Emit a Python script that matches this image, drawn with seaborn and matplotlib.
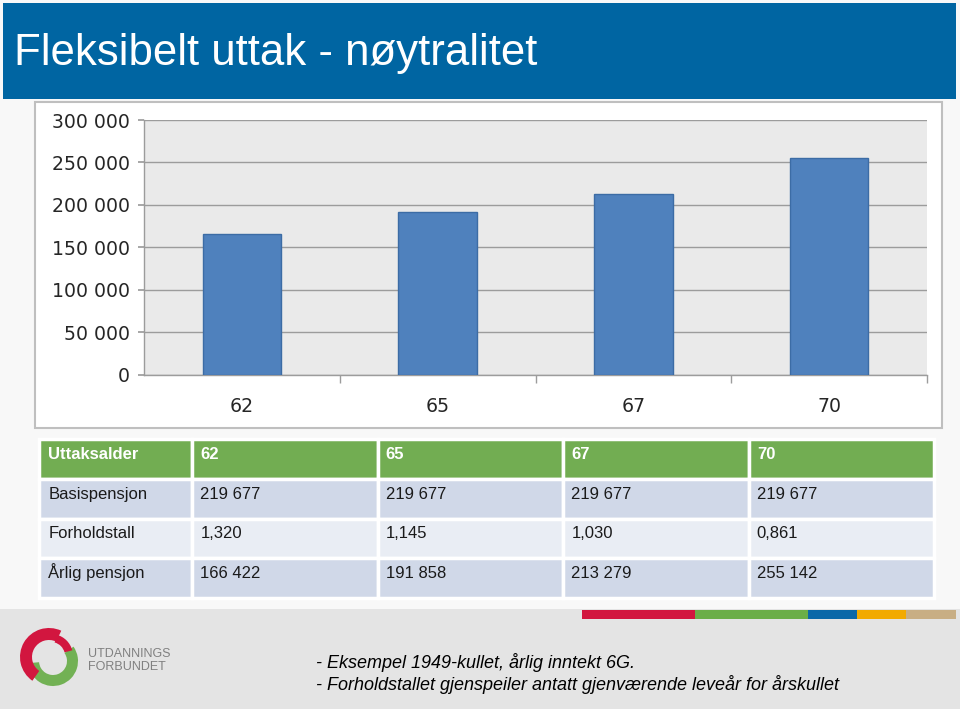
import matplotlib
matplotlib.use("Agg")
import matplotlib.pyplot as plt
import matplotlib.patches as mpatches
import numpy as np
import pandas as pd
import seaborn as sns

# ---- data ----
ages = ["62", "65", "67", "70"]
arlig_pensjon = [166422, 191858, 213279, 255142]
y_ticks = [0, 50000, 100000, 150000, 200000, 250000, 300000]
y_tick_labels = ["0", "50 000", "100 000", "150 000", "200 000", "250 000", "300 000"]

table_header = ["Uttaksalder", "62", "65", "67", "70"]
row_labels = ["Basispensjon", "Forholdstall", "Årlig pensjon"]
basispensjon = ["219 677", "219 677", "219 677", "219 677"]
forholdstall = ["1,320", "1,145", "1,030", "0,861"]
arlig_txt = ["166 422", "191 858", "213 279", "255 142"]

title = "Fleksibelt uttak - nøytralitet"
notes = ["- Eksempel 1949-kullet, årlig inntekt 6G.",
         "- Forholdstallet gjenspeiler antatt gjenværende leveår for årskullet"]

sns.set_theme(style="white")
plt.rcParams['font.family'] = ['Liberation Sans', 'DejaVu Sans']

W, H = 960, 709
fig = plt.figure(figsize=(W / 100, H / 100), dpi=100)
fig.patch.set_facecolor("#F8F8F8")

def fx(x):
    return x / W

def fy(y):
    return 1 - y / H

# background layer axes in pixel coordinates (y downwards)
bg = fig.add_axes([0, 0, 1, 1], zorder=0)
bg.set_xlim(0, W)
bg.set_ylim(H, 0)
bg.axis("off")

# title banner
bg.add_patch(mpatches.Rectangle((3, 3), 953, 96, facecolor="#0065A2", edgecolor="none"))
bg.text(14, 53, title, color="white", fontsize=31.5, va="center", ha="left",
        family=['Liberation Sans', 'DejaVu Sans'])

# chart frame
bg.add_patch(mpatches.Rectangle((35, 102), 907, 326, facecolor="white", edgecolor="#BFBFBF", lw=1.5))

# footer band
bg.add_patch(mpatches.Rectangle((0, 609), W, 100, facecolor="#E4E4E4", edgecolor="none"))
strips = [(582, 695, "#D2163F"), (695, 808, "#6BAE48"), (808, 857, "#0B68A8"),
          (857, 906, "#F2AA00"), (906, 956, "#C8AE84")]
for x0, x1, c in strips:
    bg.add_patch(mpatches.Rectangle((x0, 610), x1 - x0, 9, facecolor=c, edgecolor="none"))

# logo (angles mirrored because y axis points down)
bg.add_patch(mpatches.Wedge((53, 661), 25, -35, 175, width=11, facecolor="#72B154", edgecolor="none"))
bg.add_patch(mpatches.Wedge((49, 657), 29, 125, 295, width=12, facecolor="#D2163F", edgecolor="none"))
bg.add_patch(mpatches.Wedge((51, 656), 22, -75, -15, width=8, facecolor="#D2163F", edgecolor="none"))
bg.text(88, 654, "UTDANNINGS", color="#808080", fontsize=9, va="center", ha="left",
        family=['Liberation Sans', 'DejaVu Sans'])
bg.text(88, 667, "FORBUNDET", color="#808080", fontsize=9, va="center", ha="left",
        family=['Liberation Sans', 'DejaVu Sans'])

for i, t in enumerate(notes):
    bg.text(316, 662 + i * 23, t, color="black", fontsize=13, style="italic", va="center", ha="left",
            family=['Liberation Sans', 'DejaVu Sans'])

# ---- bar chart ----
ax = fig.add_axes([fx(144), fy(375), fx(927 - 144), (375 - 120) / H], zorder=2)
df = pd.DataFrame({"age": ages, "value": arlig_pensjon})
sns.barplot(data=df, x="age", y="value", ax=ax, color="#4F81BD", width=0.4,
            edgecolor="#3C6CA5", linewidth=1.0, saturation=1, zorder=3)
ax.set_facecolor("#EAEAEA")
ax.set_xlim(-0.5, 3.5)
ax.set_ylim(0, 300000)
ax.set_yticks(y_ticks)
ax.set_yticklabels(y_tick_labels, family="DejaVu Sans", fontsize=13.6)
ax.set_xticks(range(len(ages)))
ax.set_xticklabels(ages, family="DejaVu Sans", fontsize=13.6)
ax.set_xlabel("")
ax.set_ylabel("")
ax.grid(axis="y", color="#9C9C9C", lw=1.0, zorder=1)
ax.set_axisbelow(True)
for s in ["top", "right"]:
    ax.spines[s].set_visible(False)
for s in ["left", "bottom"]:
    ax.spines[s].set_color("#9C9C9C")
    ax.spines[s].set_linewidth(1.0)
ax.tick_params(axis="y", which="major", left=True, length=4, color="#9C9C9C", pad=6)
ax.tick_params(axis="x", which="major", bottom=False, pad=10)
ax.set_xticks([0.5, 1.5, 2.5, 3.5], minor=True)
ax.tick_params(axis="x", which="minor", bottom=True, length=6, color="#9C9C9C")

# ---- table ----
tax = fig.add_axes([fx(39), fy(598), fx(934 - 39), (598 - 439) / H], zorder=2)
tax.axis("off")
cell_text = [basispensjon, forholdstall, arlig_txt]
rows = [table_header] + [[lab] + vals for lab, vals in zip(row_labels, cell_text)]
col_w = [153, 185.5, 185.5, 185.5, 185.5]
tot = sum(col_w)
tbl = tax.table(cellText=rows, colWidths=[c / tot for c in col_w], bbox=[0, 0, 1, 1], cellLoc="left")
tbl.auto_set_font_size(False)
row_colors = ["#72AD52", "#D0D8E8", "#E9EDF4", "#D0D8E8"]
for (r, c), cell in tbl.get_celld().items():
    cell.set_facecolor(row_colors[r])
    cell.set_edgecolor("white")
    cell.set_linewidth(2.5)
    cell.PAD = 0.06 if c == 0 else 0.045
    txt = cell.get_text()
    txt.set_fontsize(12)
    txt.set_va("baseline")
    txt.set_family(['Liberation Sans', 'DejaVu Sans'])
    if r == 0:
        txt.set_color("white")
        txt.set_fontweight("bold")
    else:
        txt.set_color("#1A1A1A")

fig.savefig("out.png", dpi=100, facecolor=fig.get_facecolor())
